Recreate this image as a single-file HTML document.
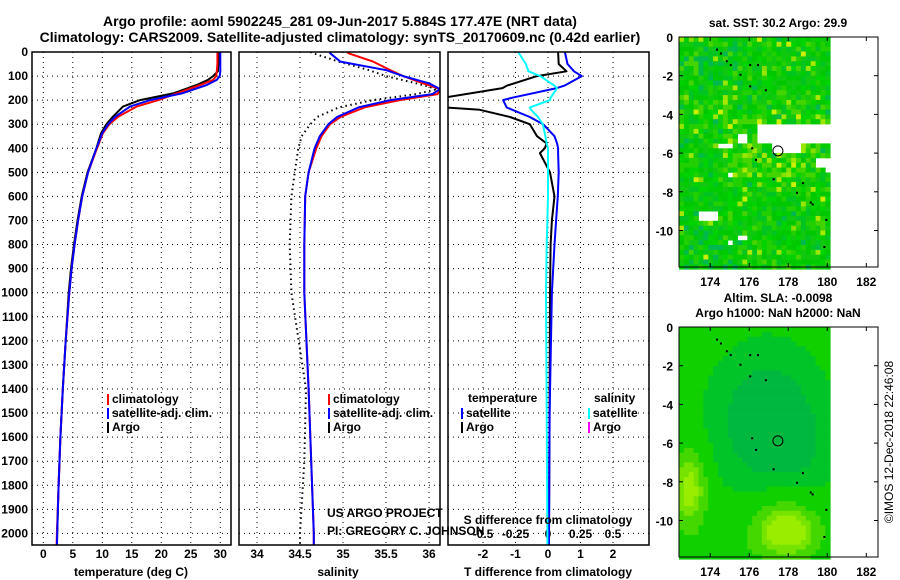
<!DOCTYPE html>
<html><head><meta charset="utf-8"><style>
body{margin:0;background:#fff;}
svg{display:block;font-family:"Liberation Sans",sans-serif;}
.b{font-weight:bold;font-size:12px;}
</style></head><body>
<svg id="s" width="900" height="580" viewBox="0 0 900 580">
<text x="340" y="26" text-anchor="middle" font-size="14" font-weight="bold">Argo profile: aoml 5902245_281 09-Jun-2017 5.884S 177.47E (NRT data)</text>
<text x="340" y="42" text-anchor="middle" font-size="14" font-weight="bold">Climatology: CARS2009. Satellite-adjusted climatology: synTS_20170609.nc (0.42d earlier)</text>
<g id="g"></g>
</svg>
<script>
// ---- data ----
const depthT = [0,50,80,100,116,137,172,200,227,269,300,337,400,500,600,700,800,900,1000,1200,1400,1600,1800,2000,2050];
const tempClim = [29.5,29.5,29.4,29.3,28.8,26.6,22.6,19.5,15.8,12.7,11.2,10.1,9.1,7.6,6.6,5.9,5.3,4.8,4.4,3.8,3.3,2.9,2.6,2.3,2.25];
const tempSat  = [30.0,30.0,30.0,29.9,29.4,27.7,23.5,18.1,14.7,12.2,11.0,10.0,9.0,7.6,6.6,5.9,5.3,4.8,4.4,3.8,3.3,2.9,2.6,2.35,2.3];
const tempArgo = [29.7,29.7,29.6,28.8,27.9,26.0,22.0,16.4,13.5,11.8,10.7,9.8,9.0,7.5,6.5,5.8,5.2,4.7,4.3,3.8,3.3,2.9,2.6,2.35,2.3];
const depthS = [0,5,40,75,100,130,154,175,200,230,270,300,350,400,500,600,800,1000,1400,1700,2000,2050];
const salClim = [35.05,35.06,35.35,35.55,35.70,35.93,36.13,36.10,35.66,35.25,34.97,34.85,34.75,34.69,34.60,34.56,34.55,34.55,34.60,34.63,34.66,34.66];
const salSat  = [34.85,34.85,34.97,35.50,35.70,36.00,36.13,36.04,35.55,35.18,34.93,34.83,34.73,34.67,34.60,34.56,34.55,34.55,34.60,34.63,34.66,34.66];
const salArgo = [34.62,34.65,34.95,35.30,35.50,35.85,36.10,35.85,35.35,34.95,34.70,34.62,34.52,34.48,34.44,34.40,34.38,34.40,34.57,34.55,34.50,34.50];
const depthD = [0,50,80,100,140,150,190,200,230,240,270,300,350,380,400,420,500,600,700,800,1000,1500,2000,2050];
const tdiffArgo = [0.31,0.33,0.57,-0.34,-1.27,-1.4,-3.2,-3.3,-3.2,-2.1,-1.17,-0.56,-0.34,-0.04,-0.1,-0.25,0.06,0.2,0.12,0.08,0.06,0.05,0.03,0.03];
const tdiffSat  = [0.52,0.60,0.8,1.04,0.5,0.27,-1.1,-1.38,-1.27,-1.1,-0.56,-0.15,0.2,0.28,0.31,0.31,0.33,0.3,0.25,0.2,0.12,0.05,0.03,0.03];
const sdiffSat  = [-0.23,-0.17,-0.15,-0.06,0.05,0.07,0.02,0.015,-0.14,-0.13,-0.077,-0.04,-0.02,-0.01,0,0,0,0,-0.005,-0.01,-0.015,-0.01,-0.005,-0.005];
const depthTicks = [0,100,200,300,400,500,600,700,800,900,1000,1100,1200,1300,1400,1500,1600,1700,1800,1900,2000];
const tTicks = [0,5,10,15,20,25,30];
const sTicks = [34,34.5,35,35.5,36];
const tdTicks = [-2,-1,0,1,2];
const sdTicks = [-0.5,-0.25,0,0.25,0.5];
const latTicks = [0,-2,-4,-6,-8,-10];
const lonTicks = [174,176,178,180,182];
const argoLon = 177.47, argoLat = -5.884;

// ---- scales ----
const yD = d => 52 + d*0.2407;
const xT = t => 43.3 + 5.9*t;
const xS = s => 257 + 86*(s-34);
const xTD = v => 548 + 32.5*v;
const xSD = v => 548 + 130*v;
const P = [{x0:32,x1:231},{x0:239,x1:440},{x0:448,x1:649}];
const NS = 'http://www.w3.org/2000/svg';
const G = document.getElementById('g');
function mk(tag, at, parent){const e=document.createElementNS(NS,tag);for(const k in at)e.setAttribute(k,at[k]);(parent||G).appendChild(e);return e;}
function txt(x,y,s,anchor,cls){const e=mk('text',{x:x,y:y,'text-anchor':anchor||'start','class':cls||'b'});e.textContent=s;return e;}

P.forEach((p,i)=>{
  const c=mk('clipPath',{id:'c'+i});mk('rect',{x:p.x0,y:52,width:p.x1-p.x0,height:493},c);
  depthTicks.forEach(d=>{const l=mk('line',{x1:p.x0,x2:p.x1,y1:yD(d),y2:yD(d),stroke:'#000','stroke-dasharray':'1,4','stroke-width':1});
    
    });
});
function vgrid(ticks,fx,lab,yl){ticks.forEach(t=>{const l=mk('line',{x1:fx(t),x2:fx(t),y1:52,y2:545,stroke:'#000','stroke-dasharray':'1,4'});
  
  
  if(lab){const e=txt(fx(t),yl||558,String(t),'middle');
  
  }});}
vgrid(tTicks,xT,true);
vgrid(sTicks,xS,true);
vgrid(tdTicks,xTD,true);
sdTicks.forEach(t=>{const e=txt(xSD(t),538,String(t),'middle');
  
  });
depthTicks.forEach(d=>{const e=txt(28,yD(d)+4,String(d),'end');
  
  });

function line(ds,vs,fx,col,clip,name,dash){
  const pts=ds.map((d,i)=>fx(vs[i]).toFixed(1)+','+yD(d).toFixed(1)).join(' ');
  const e=mk('polyline',{points:pts,fill:'none',stroke:col,'stroke-width':2,'clip-path':'url(#c'+clip+')','stroke-linejoin':'round'});
  if(dash)e.setAttribute('stroke-dasharray',dash);
  
  
}
line(depthT,tempArgo,xT,'#000',0,'temp-argo-line');
line(depthT,tempClim,xT,'#f00',0,'temp-climatology-line');
line(depthT,tempSat,xT,'#00f',0,'temp-satellite-line');
line(depthS,salArgo,xS,'#000',1,'salinity-argo-line','1.5,3.5');
line(depthS,salClim,xS,'#f00',1,'salinity-climatology-line');
line(depthS,salSat,xS,'#00f',1,'salinity-satellite-line');
line(depthD,tdiffArgo,xTD,'#000',2,'tdiff-argo-line');
line(depthD,tdiffSat,xTD,'#00f',2,'tdiff-satellite-line');
line(depthD,sdiffSat,xSD,'#0ff',2,'sdiff-satellite-line');

P.forEach(p=>{const r=mk('rect',{x:p.x0,y:52,width:p.x1-p.x0,height:493,fill:'none',stroke:'#000','stroke-width':1.5});
  
  });

function leg(x,y,col,label){const r=mk('rect',{x:x,y:y-9,width:2,height:11,fill:col});
  
  
  const t=txt(x+5,y,label);
  
  }
leg(107,403,'#f00','climatology');leg(107,417,'#00f','satellite-adj. clim.');leg(107,431,'#000','Argo');
leg(328,403,'#f00','climatology');leg(328,417,'#00f','satellite-adj. clim.');leg(328,431,'#000','Argo');
let e;
e=txt(468,402,'temperature');
e=txt(594,402,'salinity');
leg(461,417,'#00f','satellite');leg(461,431,'#000','Argo');
leg(588,417,'#0ff','satellite');leg(588,431,'#f0f','Argo');

e=txt(327,517,'US ARGO PROJECT','start','');e.setAttribute('font-size','12');
e=txt(327,535,'PI: GREGORY C. JOHNSON','start','');e.setAttribute('font-size','12');
e=txt(548,524,'S difference from climatology','middle');
e=txt(131,576,'temperature (deg C)','middle');
e=txt(338,576,'salinity','middle');
e=txt(548,576,'T difference from climatology','middle');

// ---- maps ----
const MX0=679,MX1=878;
const xL = lon => MX0 + (lon-172.4)*(MX1-MX0)/10.2;
function hash(i,j){let h=(i*374761393+j*668265263)>>>0;h=((h^(h>>>13))*1274126177)>>>0;return ((h^(h>>>16))>>>0)/4294967296;}
const holes=[[176.2,-4.5,180.2,-5.4],[177.0,-4.3,177.7,-4.6],[175.4,-5.0,175.8,-5.5],[174.3,-5.3,175.1,-5.7],[177.1,-5.4,178.5,-5.9],[179.3,-6.1,180.2,-6.6],[179.9,-6.6,180.2,-7.0],[174.9,-7.0,175.1,-7.2],[173.4,-9.0,174.4,-9.3],[172.6,-9.3,173.1,-9.5],[175.4,-10.1,175.8,-10.3],[174.8,-10.3,175.1,-10.6]];
function map(y0,name,smooth){
  const yLat = lat => y0 + (-lat)*19.35;
  const g=mk('g',{});
  
  
  const cs=0.25;
  for(let lon=172.4;lon<180.1;lon+=cs){for(let lat=0;lat>-11.9;lat-=cs){
    const i=Math.round((lon-172.4)/cs),j=Math.round(-lat/cs);
    let col;
    if(!smooth){
      if(holes.some(h=>lon>=h[0]&&lon<h[2]&&lat<=h[1]&&lat>h[3]))continue;
      const r=hash(i,j);
      const yel=(lat<-3.8&&lat>-7.2&&lon>174.5)? 0.4:(lat<-2.5&&lat>-4?0.22:0.1);
      const teal=(lon<175.5&&(lat>-2.5||lat<-9.5))?0.15:0.03;
      if(r<yel*0.4)col=['#99e600','#aae800','#88dd00','#ccee00'][Math.floor(hash(j,i)*4)];
      else if(r<yel)col='#44d400';
      else if(r<yel+teal)col=['#00b850','#00bb44'][Math.floor(hash(j+7,i)*2)];
      else col=['#00cc00','#11c811','#00c422','#22d000','#00d400','#00c800'][Math.floor(hash(j+3,i+5)*6)];
    } else {
      const dlon=lon,dl=lat;
      let v=0.48;
      v-=0.22*Math.exp(-(((dlon-176.8)/2.6)**2+((dl+4.8)/3.5)**2));
      v-=0.05*Math.exp(-(((dlon-179)/1.2)**2+((dl+6.5)/2.5)**2));
      v+=0.6*Math.exp(-(((dlon-172.8)/0.8)**2+((dl+8.3)/1.8)**2));
      v+=0.55*Math.exp(-(((dlon-177.8)/1.3)**2+((dl+10.4)/1.1)**2));
      v+=0.2*Math.exp(-(((dlon-177.6)/2.2)**2+((dl+10.5)/1.8)**2));
      v+=0.12*Math.exp(-(((dlon-174)/1.5)**2+((dl+11.5)/1)**2));
      if(v>0.95)col='#99ee00';else if(v>0.8)col='#77e400';else if(v>0.62)col='#44d800';else if(v>0.44)col='#11d000';else if(v>0.36)col='#00c428';else col='#00b840';
    }
    const px=xL(lon),py=yLat(lat);
    mk('rect',{x:px.toFixed(1),y:py.toFixed(1),width:(cs*19.5+0.4).toFixed(1),height:(cs*19.35+0.4).toFixed(1),fill:col},g);
  }}
  const isl=[[174.3,-0.6],[174.5,-0.8],[174.8,-1.2],[175.0,-1.4],[175.5,-1.9],[176.0,-1.4],[176.4,-1.4],[176.0,-2.5],[176.8,-2.7],[176.1,-5.7],[176.3,-6.3],[177.2,-7.3],[178.7,-7.5],[178.4,-8.0],[179.1,-8.5],[179.2,-8.6],[179.9,-9.4],[179.8,-10.8]];
  isl.forEach(p=>{const d=mk('rect',{x:xL(p[0]),y:yLat(p[1]),width:2,height:2,fill:'#000'},g);
    
    });
  const c=mk('circle',{cx:xL(argoLon),cy:yLat(argoLat),r:5,fill:'none',stroke:'#000','stroke-width':1});
  
  
  const fr=mk('rect',{x:MX0,y:y0,width:MX1-MX0,height:230,fill:'none',stroke:'#000','stroke-width':1});
  
  
  latTicks.forEach(t=>{const e=txt(673,yLat(t)+5,String(t),'end');
    
    
    mk('line',{x1:MX0,x2:MX0+4,y1:yLat(t),y2:yLat(t),stroke:'#000'});mk('line',{x1:MX1,x2:MX1-4,y1:yLat(t),y2:yLat(t),stroke:'#000'});});
  lonTicks.forEach(t=>{const e=txt(xL(t),y0+249,String(t),'middle');
    
    
    mk('line',{x1:xL(t),x2:xL(t),y1:y0+230,y2:y0+226,stroke:'#000'});mk('line',{x1:xL(t),x2:xL(t),y1:y0,y2:y0+4,stroke:'#000'});});
}
map(37,'sst-map',false);
map(327,'sla-map',true);
e=txt(778,27,'sat. SST: 30.2 Argo: 29.9','middle');
e=txt(778,302,'Altim. SLA: -0.0098','middle');
e=txt(778,317,'Argo h1000: NaN h2000: NaN','middle');
e=mk('text',{x:0,y:0,transform:'translate(893,442) rotate(-90)','text-anchor':'middle','font-size':'12'});e.textContent='©IMOS 12-Dec-2018 22:46:08';

</script>
</body></html>
